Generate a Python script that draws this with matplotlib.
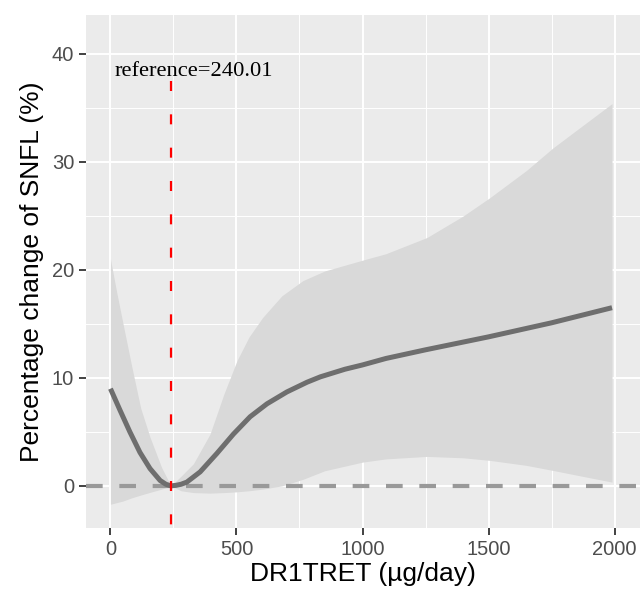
import matplotlib
matplotlib.use('Agg')
import matplotlib.pyplot as plt
from matplotlib.ticker import MultipleLocator

plt.rcParams['font.family'] = ['Liberation Sans', 'DejaVu Sans']

# dose-response curve
dose = [0, 38, 77, 117, 157, 197, 220, 240, 260, 280, 303, 356, 422, 488, 554,
        621, 700, 780, 833, 930, 1000, 1093, 1250, 1500, 1750, 1990]
pct = [9.0, 7.0, 5.0, 3.1, 1.6, 0.5, 0.15, 0.0, 0.05, 0.15, 0.35, 1.3, 3.0, 4.8,
       6.4, 7.6, 8.7, 9.6, 10.1, 10.8, 11.2, 11.8, 12.6, 13.8, 15.1, 16.5]

ci_x = [0, 25, 50, 85, 120, 157, 203, 240, 280, 329, 395, 450, 502, 550, 604,
        680, 763, 850, 1000, 1093, 1256, 1400, 1506, 1650, 1756, 1870, 1990]
ci_upper = [21.0, 17.9, 15.0, 11.0, 7.2, 4.5, 1.7, 0.0, 0.9, 2.05, 4.8, 8.5, 11.6,
            13.8, 15.6, 17.6, 19.0, 19.9, 20.9, 21.5, 23.0, 25.0, 26.7, 29.2,
            31.3, 33.3, 35.4]
ci_lower = [-1.7, -1.55, -1.4, -1.1, -0.85, -0.6, -0.3, 0.0, -0.45, -0.62, -0.67,
            -0.62, -0.55, -0.45, -0.3, 0.0, 0.6, 1.4, 2.2, 2.5, 2.73, 2.6, 2.36,
            1.9, 1.43, 0.9, 0.35]

ref_value = 240.01

fig = plt.figure(figsize=(6.4, 5.94), dpi=100)
ax = fig.add_axes([0.1344, 0.1111, 0.8656, 0.8636])
ax.set_facecolor('#EBEBEB')
for s in ax.spines.values():
    s.set_visible(False)

ax.set_xlim(-97, 2101)
ax.set_ylim(-3.9, 43.6)
ax.xaxis.set_major_locator(MultipleLocator(500))
ax.xaxis.set_minor_locator(MultipleLocator(250))
ax.yaxis.set_major_locator(MultipleLocator(10))
ax.yaxis.set_minor_locator(MultipleLocator(5))
ax.grid(which='major', color='white', linewidth=1.4)
ax.grid(which='minor', color='white', linewidth=0.7)
ax.set_axisbelow(True)
ax.tick_params(which='minor', length=0)
ax.tick_params(which='major', length=5, width=1.3, color='#333333', pad=3.5,
               labelcolor='#4D4D4D', labelsize=14.5)

ax.fill_between(ci_x, ci_lower, ci_upper, color='#D9D9D9', linewidth=0, zorder=2)
ax.axhline(0, color='#999999', linewidth=3, dashes=(4, 4), zorder=3)
ax.plot(dose, pct, color='#6E6E6E', linewidth=3.6, solid_capstyle='butt',
        solid_joinstyle='round', zorder=4)
ax.plot([ref_value, ref_value], [37.5, -3.9], color='red', linewidth=1.6,
        dashes=(4.5, 10.5), zorder=5)
ax.text(332, 38.0, 'reference=240.01', family='Liberation Serif', fontsize=16.2,
        ha='center', va='baseline', zorder=6)

ax.set_xlabel('DR1TRET (µg/day)', fontsize=19, labelpad=2)
ax.set_ylabel('Percentage change of SNFL (%)', fontsize=19, labelpad=6)

fig.savefig('out.png', dpi=100)
